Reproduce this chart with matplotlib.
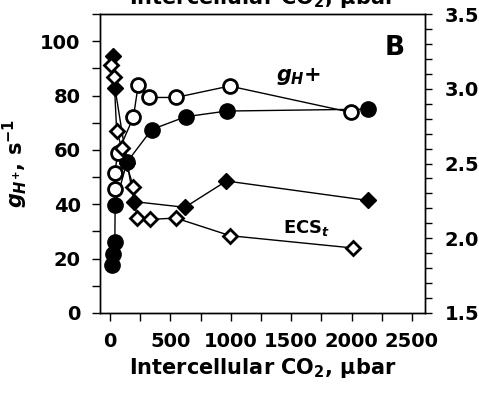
import matplotlib.pyplot as plt
import matplotlib.ticker as mticker

plt.rcParams['font.family'] = ['DejaVu Sans']
plt.rcParams['font.weight'] = 'bold'
plt.rcParams['mathtext.fontset'] = 'custom'
plt.rcParams['mathtext.rm'] = 'DejaVu Sans:bold'
plt.rcParams['mathtext.it'] = 'DejaVu Sans:italic:bold'
plt.rcParams['mathtext.bf'] = 'DejaVu Sans:bold'

# gH+ (left axis), filled and open circles
ci_fc = [20, 22, 40, 42, 140, 345, 625, 965, 2135]
gh_fc = [17.5, 21.8, 26.2, 39.7, 55.5, 67.5, 72.2, 74.3, 75.0]
ci_oc = [40, 40, 62, 193, 234, 325, 545, 990, 1996]
gh_oc = [45.8, 51.4, 58.7, 72.0, 84.0, 79.3, 79.3, 83.5, 73.8]

# ECSt (right axis), filled and open diamonds
ci_fd = [22, 41, 140, 200, 620, 964, 2134]
ecs_fd = [3.22, 3.005, 2.505, 2.245, 2.207, 2.383, 2.253]
ci_od = [10, 33, 55, 97, 193, 222, 330, 545, 995, 2010]
ecs_od = [3.16, 3.08, 2.715, 2.606, 2.343, 2.135, 2.126, 2.135, 2.017, 1.935]

fig = plt.figure(figsize=(4.79, 3.96), dpi=100)
ax = fig.add_axes([0.2088, 0.2096, 0.6782, 0.755])
ax2 = ax.twinx()

ax.plot(ci_fc, gh_fc, '-', color='black', lw=1, marker='o', ms=11,
        mfc='black', mec='black', zorder=3)
ax.plot(ci_oc, gh_oc, '-', color='black', lw=1, marker='o', ms=10,
        mfc='white', mec='black', mew=2, zorder=4)
ax2.plot(ci_fd, ecs_fd, '-', color='black', lw=1, marker='D', ms=8.5,
         mfc='black', mec='black', zorder=3)
ax2.plot(ci_od, ecs_od, '-', color='black', lw=1, marker='D', ms=7.5,
         mfc='white', mec='black', mew=2, zorder=4)

ax.set_xlim(-83, 2607)
ax.set_ylim(0, 110)
ax2.set_ylim(1.5, 3.5)

ax.xaxis.set_major_locator(mticker.MultipleLocator(500))
ax.xaxis.set_minor_locator(mticker.MultipleLocator(250))
ax.yaxis.set_major_locator(mticker.FixedLocator([0, 20, 40, 60, 80, 100]))
ax.yaxis.set_minor_locator(mticker.MultipleLocator(10))
ax2.yaxis.set_major_locator(mticker.MultipleLocator(0.5))
ax2.yaxis.set_minor_locator(mticker.MultipleLocator(0.1))
ax2.yaxis.set_major_formatter(mticker.FormatStrFormatter('%.1f'))

ax.tick_params(axis='both', which='both', direction='out', width=1, length=6)
ax.tick_params(axis='both', which='major', labelsize=14)
ax.tick_params(axis='y', pad=8)
ax.tick_params(axis='x', pad=8)
ax2.tick_params(axis='y', which='both', direction='out', length=5, width=1)
ax2.tick_params(axis='y', which='major', labelsize=14, pad=9)

for a in (ax, ax2):
    for s in a.spines.values():
        s.set_linewidth(1)

ax.set_xlabel('Intercellular CO$_2$, µbar', fontsize=15, fontweight='bold', labelpad=3)
ax.set_ylabel('$g_{H^{+}}$, s$^{-1}$', fontsize=15, fontweight='bold')
ax.yaxis.set_label_coords(-0.215, 0.5)
fig.text(0.548, 0.99, 'Intercellular CO$_2$, µbar', fontsize=15, fontweight='bold',
         ha='center', va='baseline')

ax.text(0.907, 0.886, 'B', transform=ax.transAxes, fontsize=19, fontweight='bold',
        ha='center', va='center')
ax.text(0.612, 0.79, '$g_H$+', transform=ax.transAxes, fontsize=15, fontweight='bold',
        ha='center', va='center')
ax.text(0.635, 0.285, 'ECS$_t$', transform=ax.transAxes, fontsize=13, fontweight='bold',
        ha='center', va='center')

fig.savefig('out.png', dpi=100)
